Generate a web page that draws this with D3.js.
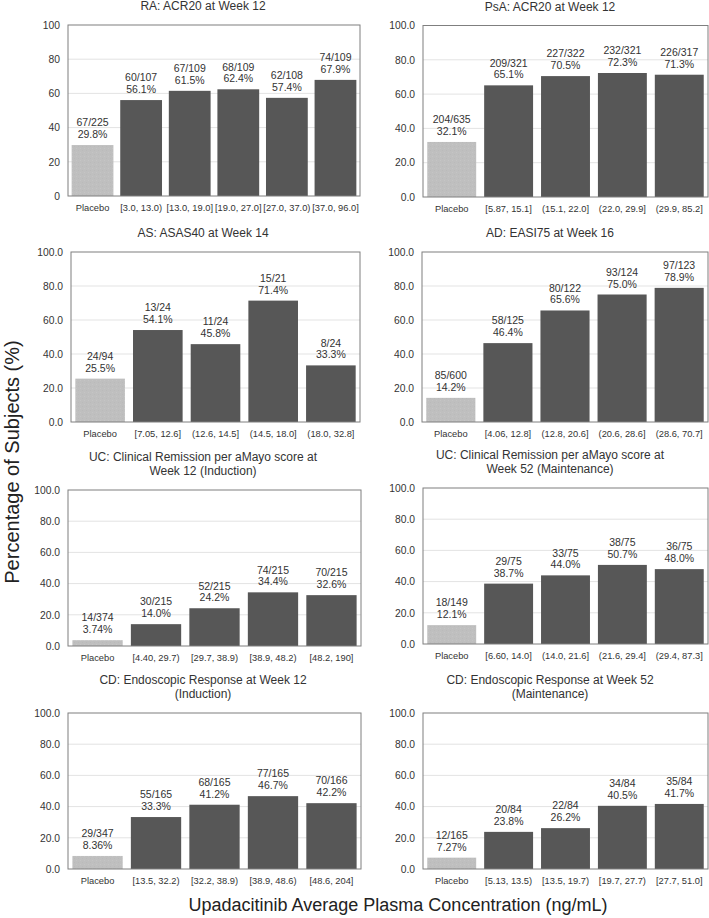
<!DOCTYPE html>
<html>
<head>
<meta charset="utf-8">
<script src="https://cdn.jsdelivr.net/npm/d3@7"></script>
<style>
  html, body { margin: 0; padding: 0; background: #fff; }
  svg { display: block; font-family: "Liberation Sans", Arial, sans-serif; }
</style>
</head>
<body>
<svg id="chart" width="709" height="918"></svg>
<script>
// ---------------- DATA ----------------
const titles = [
  ["RA: ACR20 at Week 12"],
  ["PsA: ACR20 at Week 12"],
  ["AS: ASAS40 at Week 14"],
  ["AD: EASI75 at Week 16"],
  ["UC: Clinical Remission per aMayo score at", "Week 12 (Induction)"],
  ["UC: Clinical Remission per aMayo score at", "Week 52 (Maintenance)"],
  ["CD: Endoscopic Response at Week 12", "(Induction)"],
  ["CD: Endoscopic Response at Week 52", "(Maintenance)"]
];

const raCategories   = ["Placebo", "[3.0, 13.0)", "[13.0, 19.0]", "[19.0, 27.0]", "[27.0, 37.0)", "[37.0, 96.0]"];
const raCounts       = ["67/225", "60/107", "67/109", "68/109", "62/108", "74/109"];
const raValues       = [29.8, 56.1, 61.5, 62.4, 57.4, 67.9];

const psaCategories  = ["Placebo", "[5.87, 15.1]", "(15.1, 22.0]", "(22.0, 29.9]", "(29.9, 85.2]"];
const psaCounts      = ["204/635", "209/321", "227/322", "232/321", "226/317"];
const psaValues      = [32.1, 65.1, 70.5, 72.3, 71.3];

const asCategories   = ["Placebo", "[7.05, 12.6]", "(12.6, 14.5]", "(14.5, 18.0]", "(18.0, 32.8]"];
const asCounts       = ["24/94", "13/24", "11/24", "15/21", "8/24"];
const asValues       = [25.5, 54.1, 45.8, 71.4, 33.3];

const adCategories   = ["Placebo", "[4.06, 12.8]", "(12.8, 20.6]", "(20.6, 28.6]", "(28.6, 70.7]"];
const adCounts       = ["85/600", "58/125", "80/122", "93/124", "97/123"];
const adValues       = [14.2, 46.4, 65.6, 75.0, 78.9];

const ucIndCategories = ["Placebo", "[4.40, 29.7)", "[29.7, 38.9)", "[38.9, 48.2)", "[48.2, 190]"];
const ucIndCounts     = ["14/374", "30/215", "52/215", "74/215", "70/215"];
const ucIndValues     = [3.74, 14.0, 24.2, 34.4, 32.6];

const ucMaintCategories = ["Placebo", "[6.60, 14.0]", "(14.0, 21.6]", "(21.6, 29.4]", "(29.4, 87.3]"];
const ucMaintCounts     = ["18/149", "29/75", "33/75", "38/75", "36/75"];
const ucMaintValues     = [12.1, 38.7, 44.0, 50.7, 48.0];

const cdIndCategories = ["Placebo", "[13.5, 32.2)", "[32.2, 38.9)", "[38.9, 48.6)", "[48.6, 204]"];
const cdIndCounts     = ["29/347", "55/165", "68/165", "77/165", "70/166"];
const cdIndValues     = [8.36, 33.3, 41.2, 46.7, 42.2];

const cdMaintCategories = ["Placebo", "[5.13, 13.5)", "[13.5, 19.7)", "[19.7, 27.7)", "[27.7, 51.0]"];
const cdMaintCounts     = ["12/165", "20/84", "22/84", "34/84", "35/84"];
const cdMaintValues     = [7.27, 23.8, 26.2, 40.5, 41.7];

const yTicks = [0, 20, 40, 60, 80, 100];
const yTickFormats = ["d", ".1f", ".1f", ".1f", ".1f", ".1f", ".1f", ".1f"];

const xAxisTitle = "Upadacitinib Average Plasma Concentration (ng/mL)";
const yAxisTitle = "Percentage of Subjects (%)";

const panelsData = [
  [raCategories, raCounts, raValues],
  [psaCategories, psaCounts, psaValues],
  [asCategories, asCounts, asValues],
  [adCategories, adCounts, adValues],
  [ucIndCategories, ucIndCounts, ucIndValues],
  [ucMaintCategories, ucMaintCounts, ucMaintValues],
  [cdIndCategories, cdIndCounts, cdIndValues],
  [cdMaintCategories, cdMaintCounts, cdMaintValues]
];

// ---------------- LAYOUT ----------------
const layout = [
  {x0: 68,  x1: 360, y0: 25,  y1: 196, tcx: 203},
  {x0: 423, x1: 708, y0: 25.5, y1: 197, tcx: 550},
  {x0: 71,  x1: 360, y0: 252, y1: 422, tcx: 203},
  {x0: 422, x1: 708, y0: 252, y1: 422, tcx: 550},
  {x0: 68,  x1: 361, y0: 490, y1: 646, tcx: 203},
  {x0: 423, x1: 708, y0: 488, y1: 644, tcx: 550},
  {x0: 68,  x1: 361, y0: 713, y1: 869, tcx: 203},
  {x0: 423, x1: 708, y0: 713, y1: 869, tcx: 550}
];

const colors = {
  placebo: "#bfbfbf",
  drug: "#575757",
  grid: "#e3e3e3",
  frame: "#7f7f7f",
  text: "#333333"
};

const svg = d3.select("#chart");

// subtle texture for placebo bars
const defs = svg.append("defs");
const pat = defs.append("pattern")
  .attr("id", "placeboPat").attr("patternUnits", "userSpaceOnUse")
  .attr("width", 4).attr("height", 4);
pat.append("rect").attr("width", 4).attr("height", 4).attr("fill", colors.placebo);
pat.append("rect").attr("x", 0).attr("y", 0).attr("width", 1).attr("height", 1).attr("fill", "#c5c5c5");
pat.append("rect").attr("x", 2).attr("y", 2).attr("width", 1).attr("height", 1).attr("fill", "#bababa");

const pctFmt = d3.format(".3r");

panelsData.forEach(([cats, counts, vals], i) => {
  const L = layout[i];
  const g = svg.append("g");

  const x = d3.scaleBand().domain(cats).range([L.x0, L.x1])
    .paddingInner(0.14).paddingOuter(0.075);
  const y = d3.scaleLinear().domain([0, 100]).range([L.y1, L.y0]);

  // gridlines
  g.append("g").selectAll("line").data(yTicks.slice(1, -1)).join("line")
    .attr("x1", L.x0).attr("x2", L.x1)
    .attr("y1", d => y(d)).attr("y2", d => y(d))
    .attr("stroke", colors.grid).attr("stroke-width", 1);

  // bars
  g.append("g").selectAll("rect").data(cats).join("rect")
    .attr("x", d => x(d)).attr("width", x.bandwidth())
    .attr("y", (d, j) => y(vals[j]))
    .attr("height", (d, j) => y(0) - y(vals[j]))
    .attr("fill", (d, j) => j === 0 ? "url(#placeboPat)" : colors.drug);

  // frame
  g.append("rect")
    .attr("x", L.x0).attr("y", L.y0)
    .attr("width", L.x1 - L.x0).attr("height", L.y1 - L.y0)
    .attr("fill", "none").attr("stroke", colors.frame).attr("stroke-width", 1);

  // y axis
  const yAxis = d3.axisLeft(y).tickValues(yTicks).tickSize(0).tickPadding(8)
    .tickFormat(d3.format(yTickFormats[i]));
  const ya = g.append("g").attr("transform", `translate(${L.x0},0)`).call(yAxis);
  ya.select(".domain").remove();
  ya.selectAll("text").attr("font-size", 10.3).attr("fill", colors.text)
    .attr("font-family", "Liberation Sans, Arial, sans-serif");

  // x axis
  const xAxis = d3.axisBottom(x).tickSize(0).tickPadding(8);
  const xa = g.append("g").attr("transform", `translate(0,${L.y1})`).call(xAxis);
  xa.select(".domain").remove();
  xa.selectAll("text").attr("font-size", 9.3).attr("fill", colors.text)
    .attr("font-family", "Liberation Sans, Arial, sans-serif");

  // value labels
  const lab = g.append("g").selectAll("text").data(cats).join("text")
    .attr("x", d => x(d) + x.bandwidth() / 2)
    .attr("y", (d, j) => y(vals[j]) - 7)
    .attr("text-anchor", "middle").attr("font-size", 10.5).attr("fill", colors.text);
  lab.append("tspan").attr("x", d => x(d) + x.bandwidth() / 2).attr("dy", -11.7)
    .text((d, j) => counts[j]);
  lab.append("tspan").attr("x", d => x(d) + x.bandwidth() / 2).attr("dy", 11.7)
    .text((d, j) => pctFmt(vals[j]) + "%");

  // title
  const tl = titles[i];
  const tt = g.append("text").attr("text-anchor", "middle")
    .attr("font-size", 12).attr("fill", colors.text);
  tl.forEach((line, k) => {
    tt.append("tspan").attr("x", L.tcx)
      .attr("y", L.y0 - 15 - (tl.length - 1 - k) * 14.5)
      .text(line);
  });
});

// global axis titles
svg.append("text")
  .attr("x", 398).attr("y", 911)
  .attr("text-anchor", "middle").attr("font-size", 18).attr("fill", "#222")
  .text(xAxisTitle);

svg.append("text")
  .attr("transform", "translate(19,462) rotate(-90)")
  .attr("text-anchor", "middle").attr("font-size", 20).attr("fill", "#222")
  .text(yAxisTitle);
</script>
</body>
</html>
